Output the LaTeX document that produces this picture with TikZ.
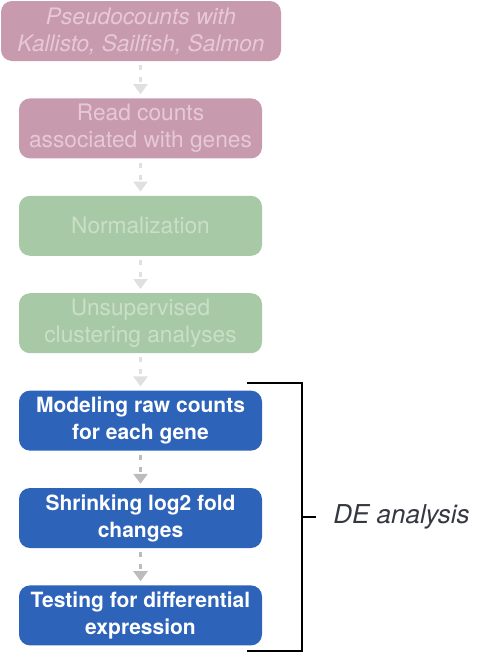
\documentclass[tikz,border=0pt]{standalone}
\usepackage{fontspec}
\setmainfont{TeX Gyre Heros}
\usetikzlibrary{positioning, arrows.meta, calc}
\definecolor{pinkfill}{HTML}{C89AAE}
\definecolor{pinktext}{HTML}{E6C9D5}
\definecolor{greenfill}{HTML}{A8C9A5}
\definecolor{greentext}{HTML}{CADFC8}
\definecolor{deblue}{HTML}{2D63B9}
\definecolor{arrowlight}{HTML}{E0E0E0}
\definecolor{arrowdark}{HTML}{BCBCBC}
\definecolor{labelgray}{HTML}{343840}

\begin{document}
\begin{tikzpicture}[
    stepbox/.style={
      rounded corners=11pt, minimum width=243pt, minimum height=60pt,
      align=center, inner sep=0pt,
      font=\fontsize{22.7}{27}\selectfont
    },
    fadedpink/.style={stepbox, fill=pinkfill, text=pinktext},
    fadedgreen/.style={stepbox, fill=greenfill, text=greentext},
    activebox/.style={stepbox, fill=deblue, text=white,
      font=\fontsize{21}{27}\selectfont\bfseries},
    flow/.style={-{Triangle[length=10pt, width=14pt]}, line width=3pt,
      dash pattern=on 5pt off 7pt, shorten <=4pt, shorten >=4pt},
    bracket/.style={line width=2pt, black},
    node distance=37pt,
]
    \useasboundingbox (0,0) rectangle (499pt,-654pt);

    % faded steps at top
    \node[fadedpink, minimum width=280pt, font=\fontsize{22.7}{27}\selectfont\itshape]
      (pseudo) at (141pt,-31pt) {Pseudocounts with\\Kallisto, Sailfish, Salmon};
    \node[fadedpink, below=of pseudo, xshift=-0.5pt] (readcounts)
      {Read counts\\associated with genes};
    \node[fadedgreen, below=of readcounts] (norm) {Normalization};
    \node[fadedgreen, below=of norm] (cluster) {Unsupervised\\clustering analyses};

    % DE analysis steps
    \node[activebox, below=of cluster] (model) {Modeling raw counts\\for each gene};
    \node[activebox, below=of model] (shrink) {Shrinking log2 fold\\changes};
    \node[activebox, below=of shrink] (test) {Testing for differential\\expression};

    % arrows between steps
    \draw[flow, arrowlight] (pseudo.south -| readcounts) -- (readcounts);
    \draw[flow, arrowlight] (readcounts) -- (norm);
    \draw[flow, arrowlight] (norm) -- (cluster);
    \draw[flow, arrowlight] (cluster) -- (model);
    \draw[flow, arrowdark] (model) -- (shrink);
    \draw[flow, arrowdark] (shrink) -- (test);

    % bracket round the DE steps
    \coordinate (brtop) at ($(model.north east)+(-15pt,7pt)$);
    \coordinate (brbot) at ($(test.south east)+(-15pt,-5pt)$);
    \draw[bracket] (brtop) -- ++(55pt,0) coordinate (brtr)
      -- (brtr |- brbot) coordinate (brbr) -- (brbot);
    \coordinate (brmid) at ($(brtr)!0.5!(brbr)$);
    \draw[bracket] (brmid) -- ++(14pt,0) coordinate (tick);
    \node[anchor=west, text=labelgray, font=\fontsize{26}{31}\selectfont\itshape,
      inner sep=0pt] (delabel) at ($(tick)+(17pt,0)$) {DE analysis};
\end{tikzpicture}
\end{document}
